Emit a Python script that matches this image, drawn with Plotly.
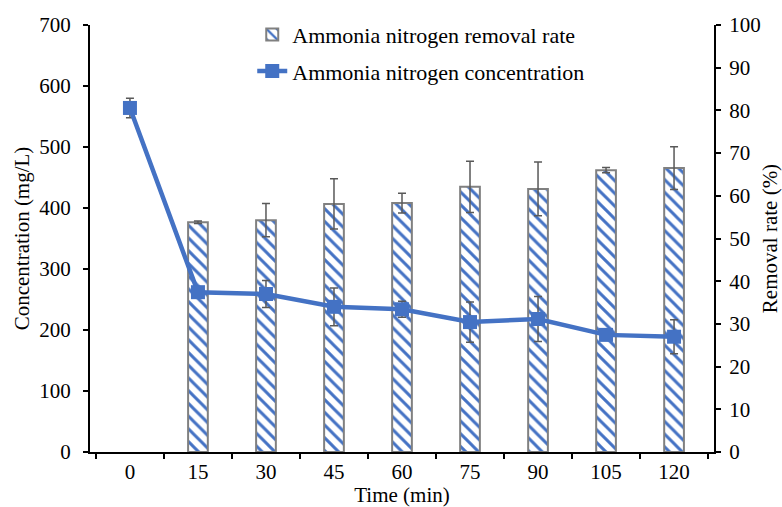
import plotly.graph_objects as go

times = ["0", "15", "30", "45", "60", "75", "90", "105", "120"]
bar_times = ["15", "30", "45", "60", "75", "90", "105", "120"]
removal_rate = [53.8, 54.3, 58.1, 58.3, 62.1, 61.6, 66.0, 66.5]
removal_err = [0.3, 3.9, 5.9, 2.3, 6.0, 6.3, 0.6, 5.0]
concentration = [564, 262, 259, 238, 234, 213, 218, 192, 189]
conc_err = [16, 3, 22, 31, 13, 33, 37, 3, 28]

BLUE = "#4472C4"
GREY = "#595959"
FONT = "Liberation Serif, Times New Roman, serif"
FS = 21

fig = go.Figure()
fig.add_trace(go.Bar(
    x=bar_times, y=removal_rate, name="Ammonia nitrogen removal rate",
    yaxis="y", width=0.29,
    marker=dict(color="white", line=dict(color="#808080", width=2),
                pattern=dict(shape="\\", fgcolor=BLUE, bgcolor="white",
                             size=9, solidity=0.33, fillmode="replace")),
    error_y=dict(type="data", array=removal_err, color=GREY, thickness=1.5, width=4),
    legend="legend",
))
fig.add_trace(go.Scatter(
    x=times, y=concentration, name="Ammonia nitrogen concentration",
    yaxis="y2", mode="lines+markers",
    line=dict(color=BLUE, width=4.5),
    marker=dict(symbol="square", size=14, color=BLUE),
    error_y=dict(type="data", array=conc_err, color=GREY, thickness=1.5, width=4),
    legend="legend2",
))

axis_common = dict(showline=True, linecolor="black", linewidth=2, ticks="outside",
                   ticklen=5, tickcolor="black", tickwidth=1.5, showgrid=False, zeroline=False,
                   automargin=False,
                   tickfont=dict(family=FONT, size=FS, color="black"))

fig.update_layout(
    width=782, height=507,
    margin=dict(l=90, r=68, t=25, b=55),
    paper_bgcolor="white", plot_bgcolor="white",
    font=dict(family=FONT, size=FS, color="black"),
    xaxis=dict(type="category", categoryorder="array", categoryarray=times,
               tickson="boundaries",
               title=dict(text="Time (min)", font=dict(family=FONT, size=FS), standoff=4),
               **axis_common),
    yaxis=dict(range=[0, 100], dtick=10, side="right", ticklabelstandoff=4,
               title=dict(text="Removal rate (%)", font=dict(family=FONT, size=FS), standoff=4),
               **axis_common),
    yaxis2=dict(range=[0, 700], dtick=100, side="left", overlaying="y", ticklabelstandoff=8,
                title=dict(text="Concentration (mg/L)", font=dict(family=FONT, size=FS), standoff=4),
                **axis_common),
    legend=dict(x=0.26, y=0.977, xanchor="left", yanchor="middle",
                bgcolor="rgba(0,0,0,0)", font=dict(family=FONT, size=22)),
    legend2=dict(x=0.26, y=0.892, xanchor="left", yanchor="middle",
                 bgcolor="rgba(0,0,0,0)", font=dict(family=FONT, size=22)),
    showlegend=True,
)

fig.write_html("out.html")
